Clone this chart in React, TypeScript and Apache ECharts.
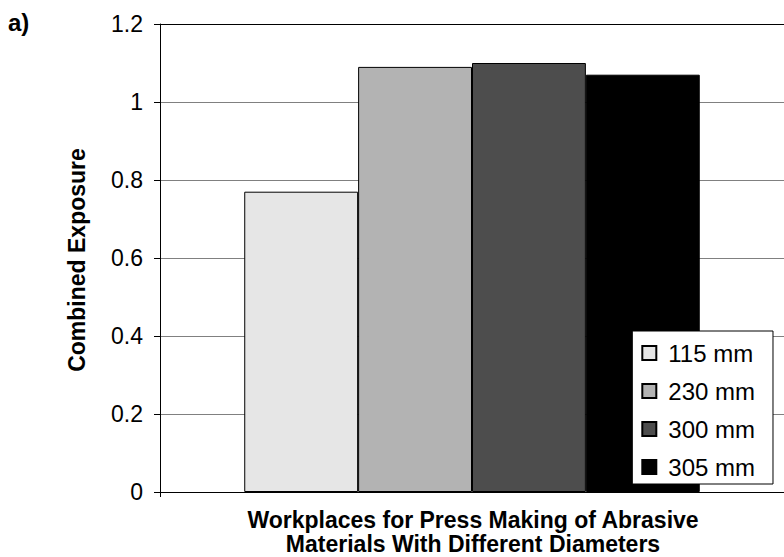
import React, { useEffect, useRef } from "react";
import * as echarts from "echarts";

const categories = ["Workplaces"];
const seriesNames = ["115 mm", "230 mm", "300 mm", "305 mm"];
const seriesValues = [0.77, 1.09, 1.1, 1.07];
const seriesColors = ["#e6e6e6", "#b3b3b3", "#4d4d4d", "#000000"];
const yMin = 0;
const yMax = 1.2;
const yInterval = 0.2;
const yTitle = "Combined Exposure";
const xTitleLines = [
  "Workplaces for Press Making of Abrasive",
  "Materials With Different Diameters",
];
const panelLabel = "a)";

const FONT = "'Liberation Sans', Arial, sans-serif";

export default function App() {
  const ref = useRef<HTMLDivElement>(null);
  useEffect(() => {
    if (!ref.current) return;
    const chart = echarts.init(ref.current, null, { renderer: "svg" });
    const splitColors = ["#808080", "#808080", "#808080", "#808080", "#808080", "#808080", "#000000"];
    chart.setOption({
      animation: false,
      backgroundColor: "#ffffff",
      textStyle: { fontFamily: FONT, color: "#000" },
      grid: { left: 160, right: 0, top: 24, bottom: 65, containLabel: false },
      legend: {
        data: seriesNames,
        orient: "vertical",
        right: 11,
        top: 331,
        backgroundColor: "#ffffff",
        borderColor: "#000000",
        borderWidth: 1,
        borderRadius: 0,
        padding: [10, 18, 5, 9],
        itemWidth: 14,
        itemHeight: 14,
        itemGap: 14,
        selectedMode: false,
        icon: "rect",
        textStyle: { fontFamily: FONT, fontSize: 24, color: "#000", padding: [0, 0, 0, 7] },
      },
      xAxis: {
        type: "category",
        data: categories,
        axisLine: { show: true, lineStyle: { color: "#000", width: 1 } },
        axisTick: { show: true, length: 5, lineStyle: { color: "#000" } },
        axisLabel: { show: false },
        splitLine: { show: false },
      },
      yAxis: {
        type: "value",
        min: yMin,
        max: yMax,
        interval: yInterval,
        axisLine: { show: true, lineStyle: { color: "#000", width: 1 } },
        axisTick: { show: true, length: 6, inside: false, lineStyle: { color: "#000" } },
        axisLabel: { fontFamily: FONT, fontSize: 23, color: "#000", margin: 17 },
        splitLine: { show: true, lineStyle: { color: splitColors, width: 1 } },
      },
      series: seriesNames.map((name, i) => ({
        name,
        type: "bar",
        data: [seriesValues[i]],
        barGap: "0%",
        barCategoryGap: "27%",
        itemStyle: { color: seriesColors[i], borderColor: "#000", borderWidth: 1 },
      })),
      graphic: [
        {
          type: "text",
          left: 8,
          top: 10,
          style: { text: panelLabel, font: `bold 24px ${FONT}`, fill: "#000" },
        },
        {
          type: "text",
          x: 77,
          y: 260,
          rotation: Math.PI / 2,
          style: {
            text: yTitle,
            font: `bold 23px ${FONT}`,
            fill: "#000",
            align: "center",
            verticalAlign: "middle",
          },
        },
        {
          type: "text",
          x: 473,
          y: 520,
          style: {
            text: xTitleLines[0],
            font: `bold 23px ${FONT}`,
            fill: "#000",
            align: "center",
            verticalAlign: "middle",
          },
        },
        {
          type: "text",
          x: 473,
          y: 544,
          style: {
            text: xTitleLines[1],
            font: `bold 23px ${FONT}`,
            fill: "#000",
            align: "center",
            verticalAlign: "middle",
          },
        },
      ],
    });
    return () => chart.dispose();
  }, []);
  return (
    <div
      ref={ref}
      style={{ position: "absolute", left: 0, top: 0, width: 784, height: 557 }}
    />
  );
}
